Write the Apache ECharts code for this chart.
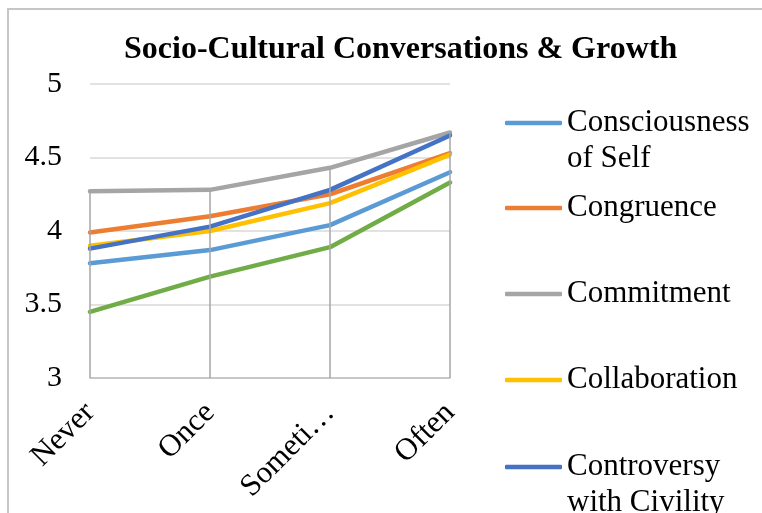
<!DOCTYPE html>
<html>
<head>
<meta charset="utf-8">
<script src="https://cdn.jsdelivr.net/npm/echarts@6/dist/echarts.min.js"></script>
<style>html,body{margin:0;padding:0;background:#fff}#c{width:762px;height:513px}</style>
</head>
<body>
<div id="c"></div>
<script>
var categories = ["Never", "Once", "Sometimes", "Often"];
var yTicks = [3, 3.5, 4, 4.5, 5];
var consciousness = [3.78, 3.87, 4.04, 4.40];
var congruence = [3.99, 4.10, 4.25, 4.53];
var commitment = [4.27, 4.28, 4.43, 4.67];
var collaboration = [3.90, 4.00, 4.19, 4.52];
var controversy = [3.88, 4.03, 4.28, 4.65];
var citizenship = [3.45, 3.69, 3.89, 4.33];

var seriesNames = ["Consciousness of Self", "Congruence", "Commitment", "Collaboration", "Controversy with Civility", "Citizenship"];
var seriesData = [consciousness, congruence, commitment, collaboration, controversy, citizenship];
var colors = ["#5B9BD5", "#ED7D31", "#A5A5A5", "#FFC000", "#4472C4", "#70AD47"];
var FONT = "'Liberation Serif','Times New Roman',serif";

var maxVals = categories.map(function (c, i) {
  return Math.max.apply(null, seriesData.map(function (s) { return s[i]; }));
});

var series = [{
  type: 'line', name: 'drop', data: [], z: 1, silent: true,
  markLine: {
    silent: true, symbol: 'none', animation: false,
    label: { show: false },
    lineStyle: { color: '#A6A6A6', width: 1.5, type: 'solid' },
    data: categories.map(function (c, i) { return [{ coord: [i, maxVals[i]] }, { coord: [i, yTicks[0]] }]; })
  }
}];
seriesNames.forEach(function (n, k) {
  series.push({
    type: 'line', name: n, data: seriesData[k], z: 2,
    showSymbol: false, symbol: 'none', animation: false,
    lineStyle: { color: colors[k], width: 4.5, cap: 'round', join: 'round' },
    itemStyle: { color: colors[k] }
  });
});

// legend layout: [name, display text, icon center y, two-line?]
var legendItems = [
  ["Consciousness of Self", "Consciousness\nof Self", 123, true],
  ["Congruence", "Congruence", 208, false],
  ["Commitment", "Commitment", 294, false],
  ["Collaboration", "Collaboration", 380, false],
  ["Controversy with Civility", "Controversy\nwith Civility", 467, true]
];
var LH = 36;
var IH = 4.5;
var legends = legendItems.map(function (it) {
  return {
    orient: 'vertical', left: 505, top: it[3] ? it[2] - LH * 1.5 : it[2] - LH / 2,
    padding: 0, itemWidth: 57, itemHeight: IH, itemGap: 0,
    icon: 'roundRect',
    data: [it[0]],
    formatter: function () { return it[3] ? '\n' + it[1] : it[1]; },
    textStyle: {
      fontFamily: FONT, fontSize: 31, color: '#000', lineHeight: LH
    }
  };
});

var chart = echarts.init(document.getElementById('c'), null, { renderer: 'canvas' });
chart.setOption({
  backgroundColor: '#fff',
  animation: false,
  title: {
    text: 'Socio-Cultural Conversations & Growth',
    left: 124, top: 34, padding: 0,
    textStyle: { fontFamily: FONT, fontSize: 32, fontWeight: 'bold', color: '#000' }
  },
  graphic: [{
    type: 'rect', silent: true, z: -1,
    shape: { x: 8, y: 9, width: 800, height: 600 },
    style: { fill: 'none', stroke: '#C6C6C6', lineWidth: 2 }
  }],
  legend: legends,
  grid: { left: 90, right: 312, top: 84, bottom: 135, containLabel: false },
  xAxis: {
    type: 'category', data: categories, boundaryGap: false,
    axisLine: { show: true, lineStyle: { color: '#BFBFBF', width: 1.5 } },
    axisTick: { show: false },
    splitLine: { show: false },
    axisLabel: {
      rotate: 45, margin: 30, interval: 0,
      fontFamily: FONT, fontSize: 31, color: '#000',
      width: 130, overflow: 'truncate', ellipsis: '…'
    }
  },
  yAxis: {
    type: 'value', min: yTicks[0], max: yTicks[yTicks.length - 1], interval: 0.5,
    axisLine: { show: false }, axisTick: { show: false },
    splitLine: { show: true, lineStyle: { color: '#D9D9D9', width: 1.5 } },
    axisLabel: { margin: 28, fontFamily: FONT, fontSize: 30, color: '#000' }
  },
  series: series
});
</script>
</body>
</html>
